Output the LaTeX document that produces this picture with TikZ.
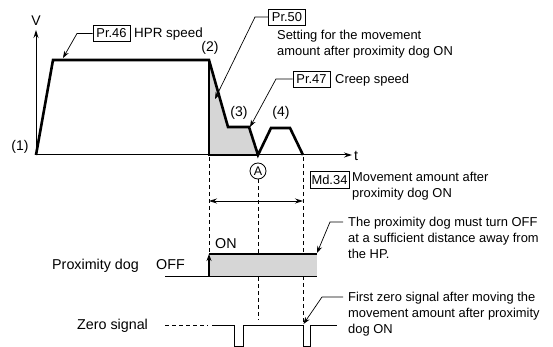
\documentclass[tikz,border=0pt]{standalone}
\usepackage{fontspec}
\setmainfont{Liberation Sans}
\usetikzlibrary{arrows.meta}
\begin{document}
\begin{tikzpicture}[x=1pt,y=-1pt,
  font=\fontsize{12.9}{16}\selectfont,
  lbl/.style={inner sep=0pt, anchor=base west},
  biglbl/.style={inner sep=0pt, anchor=base west, font=\fontsize{14.3}{17}\selectfont},
  note/.style={inner sep=0pt, anchor=north west, align=left},
  prbox/.style={draw, line width=0.8pt, inner xsep=3.5pt, inner ysep=3.5pt},
  thinline/.style={line width=0.8pt},
  axisline/.style={line width=1pt, -{Stealth[length=8pt,width=5pt]}},
  prof/.style={line width=2.6pt, line join=miter},
  vdash/.style={line width=0.8pt, dash pattern=on 4pt off 3pt},
  lead/.style={line width=0.7pt, -{Stealth[length=7pt,width=5pt]}},
  shade/.style={fill=black!16}
]
\useasboundingbox (0,0) rectangle (553,347);

% coordinates of the speed profile
\coordinate (O) at (36,155);
\coordinate (p1) at (53,60);
\coordinate (p2) at (209,60);
\coordinate (p3) at (228,127);
\coordinate (p4) at (249,127);
\coordinate (A0) at (258,155);
\coordinate (p5) at (271,128);
\coordinate (p6) at (290,128);
\coordinate (p7) at (303,155);
\coordinate (b2) at (209,155);
\coordinate (vtop) at (36,30);
\coordinate (tend) at (352,155);

% shaded area
\fill[shade] (p2) -- (p3) -- (p4) -- (A0) -- (b2) -- cycle;

% axes
\draw[axisline] (O) -- (vtop);
\draw[axisline] (O) -- (tend);
\node[inner sep=0pt, font=\fontsize{14}{16}\selectfont] (V) at (36,21) {V};
\node[biglbl] (t) at (354,160.5) {t};

% profile
\draw[prof] (O) -- (p1) -- (p2) -- (p3) -- (p4) -- (A0) -- (p5) -- (p6) -- (p7);
\draw[prof] (p2) -- (b2) -- (A0);

% numbered labels
\node[inner sep=0pt, font=\fontsize{14}{16}\selectfont] (n1) at (20,147) {(1)};
\node[inner sep=0pt, font=\fontsize{14}{16}\selectfont] (n2) at (210,48) {(2)};
\node[inner sep=0pt, font=\fontsize{14}{16}\selectfont] (n3) at (239,113) {(3)};
\node[inner sep=0pt, font=\fontsize{14}{16}\selectfont] (n4) at (281,113) {(4)};

% circled A
\node[circle, draw, thinline, inner sep=0pt, minimum size=16pt, font=\fontsize{12.5}{14}\selectfont] (A) at (258,171) {A};

% parameter boxes
\node[prbox] (pr46) at (111.5,33.5) {Pr.46};
\node[lbl, font=\fontsize{13.4}{16}\selectfont] (t46) at (134,37.5) {HPR speed};
\coordinate (k46) at (77,33.5);
\coordinate (a46) at (63,58);
\draw[lead] (pr46.west) -- (k46) -- (a46);

\node[prbox] (pr50) at (287,17) {Pr.50};
\node[note] (t50) at (277,30) {Setting for the movement\\amount after proximity dog ON};
\coordinate (k50) at (255,17);
\coordinate (a50) at (215,99);
\draw[lead] (pr50.west) -- (k50) -- (a50);

\node[prbox] (pr47) at (311.5,79) {Pr.47};
\node[lbl] (t47) at (335,83.5) {Creep speed};
\coordinate (k47) at (276,79);
\coordinate (a47) at (250,127);
\draw[lead] (pr47.west) -- (k47) -- (a47);

\node[prbox, inner xsep=1.5pt] (md34) at (329.5,180) {Md.34};
\node[note] (t34) at (352,172) {Movement amount after\\proximity dog ON};

% dashed verticals
\coordinate (d1a) at (209,157);
\coordinate (d1b) at (209,253);
\coordinate (d2b) at (258,320);
\coordinate (d3a) at (303,157);
\coordinate (d3b) at (303,325);
\draw[vdash] (d1a) -- (d1b);
\draw[vdash] (A.south) -- (d2b);
\draw[vdash] (d3a) -- (d3b);

% movement amount arrow
\coordinate (m1) at (209,201);
\coordinate (m2) at (303,201);
\draw[thinline, {Stealth[length=8pt,width=5pt]}-{Stealth[length=8pt,width=5pt]}] (m1) -- (m2);

% proximity dog signal
\node[biglbl] (pd) at (52,269) {Proximity dog};
\node[biglbl] (off) at (156,269) {OFF};
\node[biglbl] (on) at (215,248) {ON};
\coordinate (pd0) at (165,276);
\coordinate (pd1) at (209,276);
\coordinate (pd2) at (209,254);
\coordinate (pd3) at (317,254);
\coordinate (pd4) at (317,276);
\fill[shade] (pd2) rectangle (pd4);
\draw[thinline] (pd0) -- (pd4);
\draw[line width=1.3pt] (pd2) -- (pd3);
\draw[line width=1.3pt, -{Stealth[length=7pt,width=5pt]}] (pd1) -- (pd2);

\node[note] (tpd) at (348,217) {The proximity dog must turn OFF\\at a sufficient distance away from\\the HP.};
\coordinate (lp0) at (343,222);
\coordinate (lp1) at (330,222);
\coordinate (lp2) at (317,253);
\draw[lead] (lp0) -- (lp1) -- (lp2);

% zero signal
\node[biglbl] (zs) at (77,329) {Zero signal};
\coordinate (z0) at (165,325);
\coordinate (z1) at (208,325);
\coordinate (z2) at (212,325);
\coordinate (z3) at (337,325);
\draw[vdash] (z0) -- (z1);
\draw[thinline] (z2) -- (234,325) -- (234,346) -- (243,346) -- (243,325) -- (303,325) -- (303,346) -- (310.5,346) -- (310.5,325) -- (z3);

\node[note] (tzs) at (348,292) {First zero signal after moving the\\movement amount after proximity\\dog ON};
\coordinate (lz0) at (343,297);
\coordinate (lz1) at (322,297);
\coordinate (lz2) at (303.5,324);
\draw[lead] (lz0) -- (lz1) -- (lz2);

\end{tikzpicture}
\end{document}
